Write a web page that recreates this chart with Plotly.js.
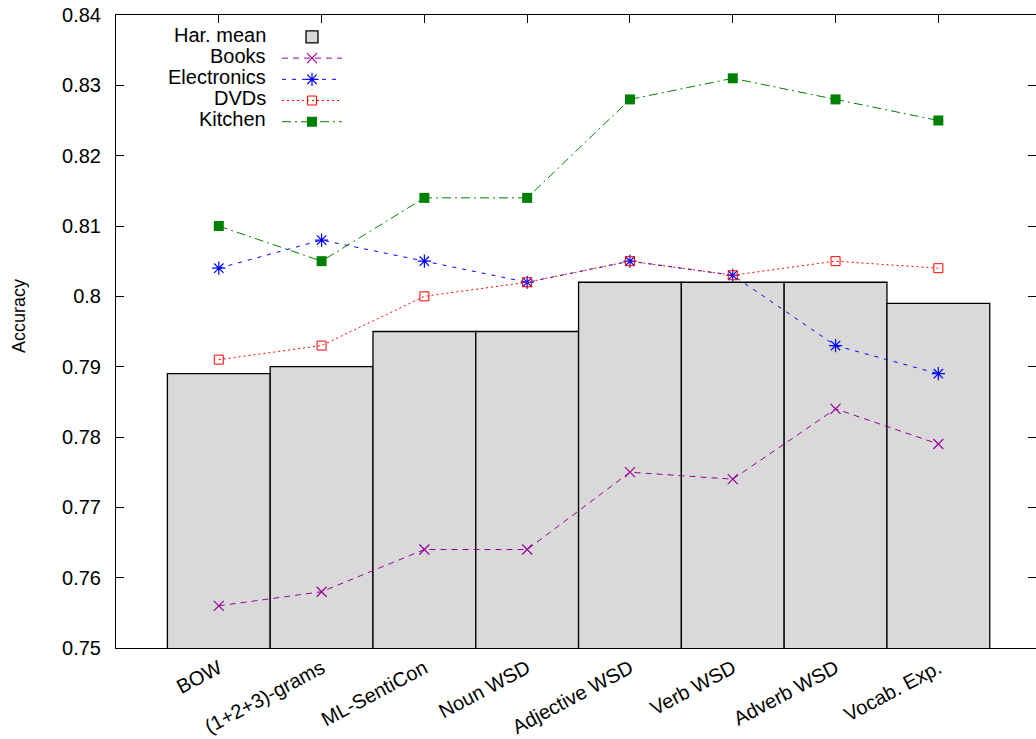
<!DOCTYPE html>
<html>
<head>
<meta charset="utf-8">
<script src="https://cdn.plot.ly/plotly-3.0.1.min.js"></script>
<style>html,body{margin:0;padding:0;background:#fff;}#chart{width:1036px;height:739px;}</style>
</head>
<body>
<div id="chart"></div>
<script>
const categories = ['BOW', '(1+2+3)-grams', 'ML-SentiCon', 'Noun WSD', 'Adjective WSD', 'Verb WSD', 'Adverb WSD', 'Vocab. Exp.'];
const harMean    = [0.789, 0.790, 0.795, 0.795, 0.802, 0.802, 0.802, 0.799];
const books      = [0.756, 0.758, 0.764, 0.764, 0.775, 0.774, 0.784, 0.779];
const electronics= [0.804, 0.808, 0.805, 0.802, 0.805, 0.803, 0.793, 0.789];
const dvds       = [0.791, 0.793, 0.800, 0.802, 0.805, 0.803, 0.805, 0.804];
const kitchen    = [0.810, 0.805, 0.814, 0.814, 0.828, 0.831, 0.828, 0.825];
const yTickVals  = [0.75, 0.76, 0.77, 0.78, 0.79, 0.80, 0.81, 0.82, 0.83, 0.84];
const yTickText  = ['0.75', '0.76', '0.77', '0.78', '0.79', '0.8', '0.81', '0.82', '0.83', '0.84'];
const seriesNames = ['Har. mean', 'Books', 'Electronics', 'DVDs', 'Kitchen'];
const yTitle = 'Accuracy';

const FONT = 'Liberation Sans, Arial, Helvetica, sans-serif';

const traces = [
  {type: 'bar', name: seriesNames[0], x: categories, y: harMean,
   marker: {color: '#d9d9d9', line: {color: '#000', width: 1.3}}},
  {type: 'scatter', mode: 'lines+markers', name: seriesNames[1], x: categories, y: books,
   line: {color: '#990099', width: 1, dash: '6px,5px'},
   marker: {symbol: 'x-thin-open', size: 10, color: '#990099', line: {color: '#990099', width: 1.2}}},
  {type: 'scatter', mode: 'lines+markers', name: seriesNames[2], x: categories, y: electronics,
   line: {color: '#0000ff', width: 1, dash: '4px,6px'},
   marker: {symbol: 'asterisk-open', size: 11, color: '#0000ff', line: {color: '#0000ff', width: 1.2}}},
  {type: 'scatter', mode: 'lines+markers', name: seriesNames[3], x: categories, y: dvds,
   line: {color: '#ff0000', width: 1, dash: '2px,3px'},
   marker: {symbol: 'square-open', size: 9, color: '#ff0000', line: {color: '#ff0000', width: 1}}},
  {type: 'scatter', mode: 'lines+markers', name: seriesNames[4], x: categories, y: kitchen,
   line: {color: '#008000', width: 1, dash: '9px,4px,2px,4px'},
   marker: {symbol: 'square', size: 10, color: '#008000'}}
];

const rowsY = [35, 56, 77, 98, 119];
const plotTop = 15, plotBottom = 648, plotLeft = 116, plotRight = 1036;
const px2x = p => (p - plotLeft) / (plotRight - plotLeft);
const px2y = p => (plotBottom - p) / (plotBottom - plotTop);
const annotations = seriesNames.map((n, i) => ({
  xref: 'paper', yref: 'paper', x: px2x(268), y: px2y(rowsY[i]),
  xanchor: 'right', yanchor: 'middle', showarrow: false,
  text: n, font: {family: FONT, size: 20, color: '#000'}
}));
annotations.push({
  xref: 'paper', yref: 'paper', x: px2x(19), y: px2y(316),
  xanchor: 'center', yanchor: 'middle', showarrow: false, textangle: -90,
  text: yTitle, font: {family: 'Liberation Sans Narrow, Arial Narrow, ' + FONT, size: 18, color: '#000'}
});

const layout = {
  width: 1036, height: 739,
  margin: {l: 116, r: 0, t: 15, b: 91, pad: 0},
  paper_bgcolor: '#fff', plot_bgcolor: '#fff',
  font: {family: FONT, size: 20, color: '#000'},
  bargap: 0,
  showlegend: true,
  legend: {
    x: px2x(277), y: 0.99,
    xanchor: 'left', yanchor: 'top',
    bgcolor: 'rgba(0,0,0,0)', borderwidth: 0,
    font: {family: FONT, size: 14, color: 'rgba(0,0,0,0)'},
    itemwidth: 60
  },
  xaxis: {
    type: 'category', range: [-1, 7.95],
    showline: true, linecolor: '#000', linewidth: 1, mirror: 'ticks',
    ticks: 'inside', ticklen: 8, tickcolor: '#000',
    tickangle: -28, tickfont: {family: FONT, size: 20},
    showgrid: false, zeroline: false, layer: 'below traces', automargin: false
  },
  yaxis: {
    range: [0.75, 0.84], tickvals: yTickVals, ticktext: yTickText,
    showline: true, linecolor: '#000', linewidth: 1, mirror: 'ticks',
    ticks: 'inside', ticklen: 8, tickcolor: '#000',
    tickfont: {family: FONT, size: 20}, ticklabelstandoff: 10,
    showgrid: false, zeroline: false, automargin: false
  },
  annotations: annotations
};

Plotly.newPlot('chart', traces, layout, {displayModeBar: false, staticPlot: true});
</script>
</body>
</html>
